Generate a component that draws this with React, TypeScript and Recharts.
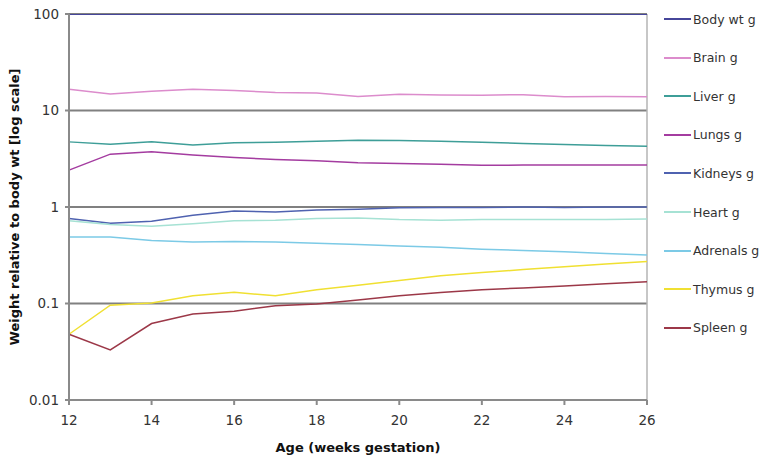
import React from "react";
import {
  LineChart,
  Line,
  XAxis,
  YAxis,
  CartesianGrid,
  ReferenceLine,
} from "recharts";

const weeks = [12, 13, 14, 15, 16, 17, 18, 19, 20, 21, 22, 23, 24, 25, 26];

const bodyWt = [100, 100, 100, 100, 100, 100, 100, 100, 100, 100, 100, 100, 100, 100, 100];
const brain = [16.6, 14.8, 15.8, 16.6, 16.1, 15.4, 15.2, 14.0, 14.7, 14.5, 14.4, 14.6, 13.9, 14.0, 13.9];
const liver = [4.73, 4.48, 4.73, 4.38, 4.62, 4.7, 4.8, 4.93, 4.88, 4.8, 4.7, 4.56, 4.45, 4.35, 4.27];
const lungs = [2.41, 3.53, 3.73, 3.45, 3.26, 3.11, 3.01, 2.87, 2.83, 2.78, 2.7, 2.72, 2.72, 2.72, 2.72];
const kidneys = [0.76, 0.68, 0.71, 0.82, 0.91, 0.89, 0.93, 0.95, 0.98, 0.99, 0.99, 1.0, 0.99, 1.0, 1.0];
const heart = [0.72, 0.66, 0.63, 0.67, 0.72, 0.73, 0.76, 0.77, 0.74, 0.73, 0.74, 0.74, 0.74, 0.74, 0.75];
const adrenals = [0.49, 0.49, 0.45, 0.435, 0.44, 0.435, 0.42, 0.408, 0.395, 0.383, 0.365, 0.355, 0.343, 0.33, 0.319];
const thymus = [0.048, 0.096, 0.101, 0.12, 0.131, 0.12, 0.139, 0.155, 0.173, 0.194, 0.209, 0.225, 0.241, 0.257, 0.272];
const spleen = [0.048, 0.033, 0.062, 0.078, 0.083, 0.095, 0.099, 0.109, 0.12, 0.13, 0.139, 0.145, 0.152, 0.16, 0.168];

const xTicks = [12, 14, 16, 18, 20, 22, 24, 26];
const yTicks = [0.01, 0.1, 1, 10, 100];

const series = [
  { key: "body", name: "Body wt g", values: bodyWt, color: "#46469a", width: 2 },
  { key: "brain", name: "Brain g", values: brain, color: "#dc8ccc", width: 1.5 },
  { key: "liver", name: "Liver g", values: liver, color: "#3e9e98", width: 1.5 },
  { key: "lungs", name: "Lungs g", values: lungs, color: "#a43ca0", width: 1.5 },
  { key: "kidneys", name: "Kidneys g", values: kidneys, color: "#4f62b0", width: 1.5 },
  { key: "heart", name: "Heart g", values: heart, color: "#a6e2d4", width: 1.5 },
  { key: "adrenals", name: "Adrenals g", values: adrenals, color: "#7ccae6", width: 1.5 },
  { key: "thymus", name: "Thymus g", values: thymus, color: "#f0e032", width: 1.5 },
  { key: "spleen", name: "Spleen g", values: spleen, color: "#9c3848", width: 1.5 },
];

const data = weeks.map((w, i) => {
  const row: Record<string, number> = { week: w };
  series.forEach((s) => {
    row[s.key] = s.values[i];
  });
  return row;
});

const font = "'DejaVu Sans', Verdana, sans-serif";

export default function App() {
  return (
    <div
      style={{
        position: "absolute",
        left: 0,
        top: 0,
        width: 763,
        height: 457,
        background: "#fff",
        overflow: "hidden",
        fontFamily: font,
      }}
    >
      <LineChart
        width={763}
        height={457}
        data={data}
        margin={{ top: 14, right: 116, bottom: 27, left: 0 }}
      >
        <CartesianGrid vertical={false} stroke="#808080" strokeWidth={2} />
        <XAxis
          dataKey="week"
          type="number"
          domain={[12, 26]}
          ticks={xTicks}
          height={30}
          stroke="#8a8a8a"
          strokeWidth={2}
          tickSize={5}
          tickMargin={10}
          tick={{ fill: "#333", fontSize: 13.5, fontFamily: font }}
          label={{
            value: "Age (weeks gestation)",
            position: "insideBottom",
            offset: -22,
            style: { fill: "#111", fontSize: 13, fontWeight: "bold", fontFamily: font },
          }}
        />
        <YAxis
          type="number"
          scale="log"
          domain={[0.01, 100]}
          ticks={yTicks}
          allowDataOverflow
          width={69}
          stroke="#8a8a8a"
          strokeWidth={2}
          tickSize={4}
          tickMargin={6}
          tick={{ fill: "#333", fontSize: 13.5, fontFamily: font }}
          label={{
            value: "Weight relative to body wt [log scale]",
            angle: -90,
            position: "center",
            dx: -20,
            style: { fill: "#111", fontSize: 13, fontWeight: "bold", fontFamily: font },
          }}
        />
        <ReferenceLine x={26} stroke="#b4b4b4" strokeWidth={1.5} />
        {series.map((s) => (
          <Line
            key={s.key}
            dataKey={s.key}
            name={s.name}
            stroke={s.color}
            strokeWidth={s.width}
            dot={false}
            type="linear"
            isAnimationActive={false}
          />
        ))}
      </LineChart>
      {series.map((s, i) => (
        <div
          key={s.key}
          style={{
            position: "absolute",
            left: 664,
            top: 19 + i * 38.6 - 8,
            height: 16,
            display: "flex",
            alignItems: "center",
            whiteSpace: "nowrap",
            fontSize: 12.5,
            color: "#333",
          }}
        >
          <span
            style={{
              display: "inline-block",
              width: 27,
              height: 2,
              background: s.color,
              marginRight: 2,
            }}
          />
          {s.name}
        </div>
      ))}
    </div>
  );
}
